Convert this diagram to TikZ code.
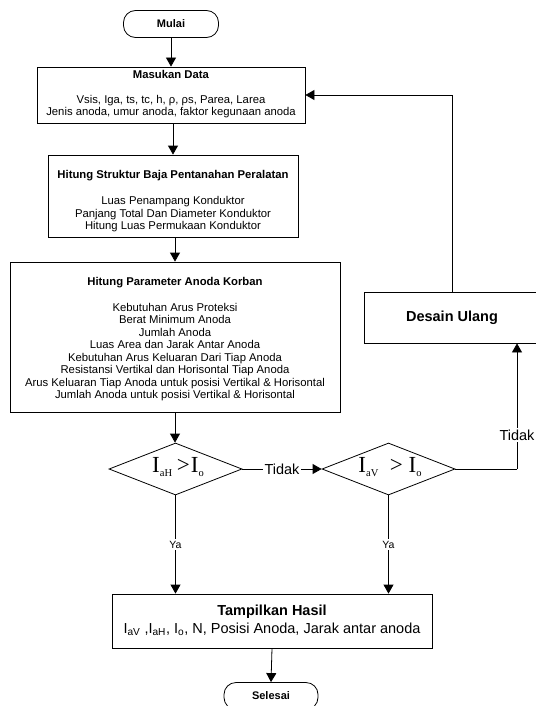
\documentclass[tikz,border=0pt]{standalone}
\usepackage{fontspec}
\setmainfont{Liberation Sans}
\newfontfamily\seriffont{Liberation Serif}
\usetikzlibrary{shapes.geometric,arrows.meta}
\newcommand{\sbs}[1]{\raisebox{-4.5pt}{\fontsize{10.5}{11}\selectfont #1}}
\begin{document}
\begin{tikzpicture}[x=1pt,y=-1pt,
  box/.style={draw,line width=0.8pt,inner sep=0pt},
  term/.style={draw,line width=0.8pt,rounded corners=12pt,inner sep=0pt,font=\fontsize{11}{13}\selectfont\bfseries},
  dia/.style={draw,diamond,line width=0.8pt,inner sep=0pt,minimum width=133pt,minimum height=52pt},
  arr/.style={-{Triangle[width=10pt,length=9pt]},line width=0.8pt},
  ln/.style={line width=0.8pt},
  body/.style={align=center,inner sep=0pt,font=\fontsize{11.3}{12.5}\selectfont},
  big/.style={align=center,inner sep=0pt,font=\fontsize{14.5}{18}\selectfont},
  lbl/.style={fill=white,inner sep=1.5pt,font=\fontsize{14.5}{16}\selectfont},
  ya/.style={fill=white,inner sep=1.5pt,font=\fontsize{10.5}{12}\selectfont},
  cond/.style={inner sep=0pt,font=\seriffont\fontsize{23}{24}\selectfont}
]
\useasboundingbox (0,0) rectangle (535,706);

% terminators
\node[term,minimum width=95pt,minimum height=27pt] (mulai) at (171,24) {Mulai};
\node[term,minimum width=94pt,minimum height=27pt] (selesai) at (271,696) {Selesai};

% boxes
\node[box,minimum width=268pt,minimum height=56pt] (masukan) at (171,95) {};
\node[body] (masukant) at (171,94) {\textbf{Masukan Data}\\[12.5pt]
  Vsis, Iga, ts, tc, h, ρ, ρs, Parea, Larea\\
  Jenis anoda, umur anoda, faktor kegunaan anoda};

\node[box,minimum width=250pt,minimum height=82pt] (struktur) at (173,196) {};
\node[body] (strukturt) at (173,201) {\textbf{Hitung Struktur Baja Pentanahan Peralatan}\\[14pt]
  Luas Penampang Konduktor\\
  Panjang Total Dan Diameter Konduktor\\
  Hitung Luas Permukaan Konduktor};

\node[box,minimum width=330pt,minimum height=150pt] (param) at (175,337) {};
\node[body] (paramt) at (175,339) {\textbf{Hitung Parameter Anoda Korban}\\[13.5pt]
  Kebutuhan Arus Proteksi\\
  Berat Minimum Anoda\\
  Jumlah Anoda\\
  Luas Area dan Jarak Antar Anoda\\
  Kebutuhan Arus Keluaran Dari Tiap Anoda\\
  Resistansi Vertikal dan Horisontal Tiap Anoda\\
  Arus Keluaran Tiap Anoda untuk posisi Vertikal \& Horisontal\\
  Jumlah Anoda untuk posisi Vertikal \& Horisontal};

\node[box,minimum width=176pt,minimum height=51pt,font=\fontsize{14.5}{16}\selectfont\bfseries] (desain) at (452,317.5) {Desain Ulang};

\node[box,minimum width=320pt,minimum height=54pt] (tampil) at (272,621) {};
\node[big] (tampilt) at (272,620) {\textbf{Tampilkan Hasil}\\
  I\textsubscript{aV} ,I\textsubscript{aH}, I\textsubscript{o}, N, Posisi Anoda, Jarak antar anoda};

% decisions
\node[dia] (d1) at (175.5,469) {};
\node[cond] (d1t) at (178,467) {I\sbs{aH} \kern-1pt>\kern1pt I\sbs{o}};
\node[dia] (d2) at (388.5,469) {};
\node[cond] (d2t) at (390,467) {I\sbs{aV}\ \ > I\sbs{o}};

% connectors
\draw[arr] (mulai.south) -- (mulai.south |- masukan.north);
\draw[arr] (masukan.south -| struktur.north) -- (struktur.north);
\draw[arr] (struktur.south -| param.north) -- (param.north);
\draw[arr] (param.south) -- (param.south |- d1.north);
\draw[arr] (d1.east) -- node[lbl] (tidak1) {Tidak} (d2.west);
\coordinate (corner) at (517,469);
\draw[ln] (d2.east) -- (corner);
\draw[arr] (corner) -- node[lbl,pos=0.27] (tidak2) {Tidak} (corner |- desain.south);
\draw[arr] (desain.north) |- (masukan.east);
\draw[arr] (d1.south) -- node[ya] (ya1) {Ya} (d1.south |- tampil.north);
\draw[arr] (d2.south) -- node[ya] (ya2) {Ya} (d2.south |- tampil.north);
\draw[arr] (tampil.south) -- (selesai.north);
\end{tikzpicture}
\end{document}
